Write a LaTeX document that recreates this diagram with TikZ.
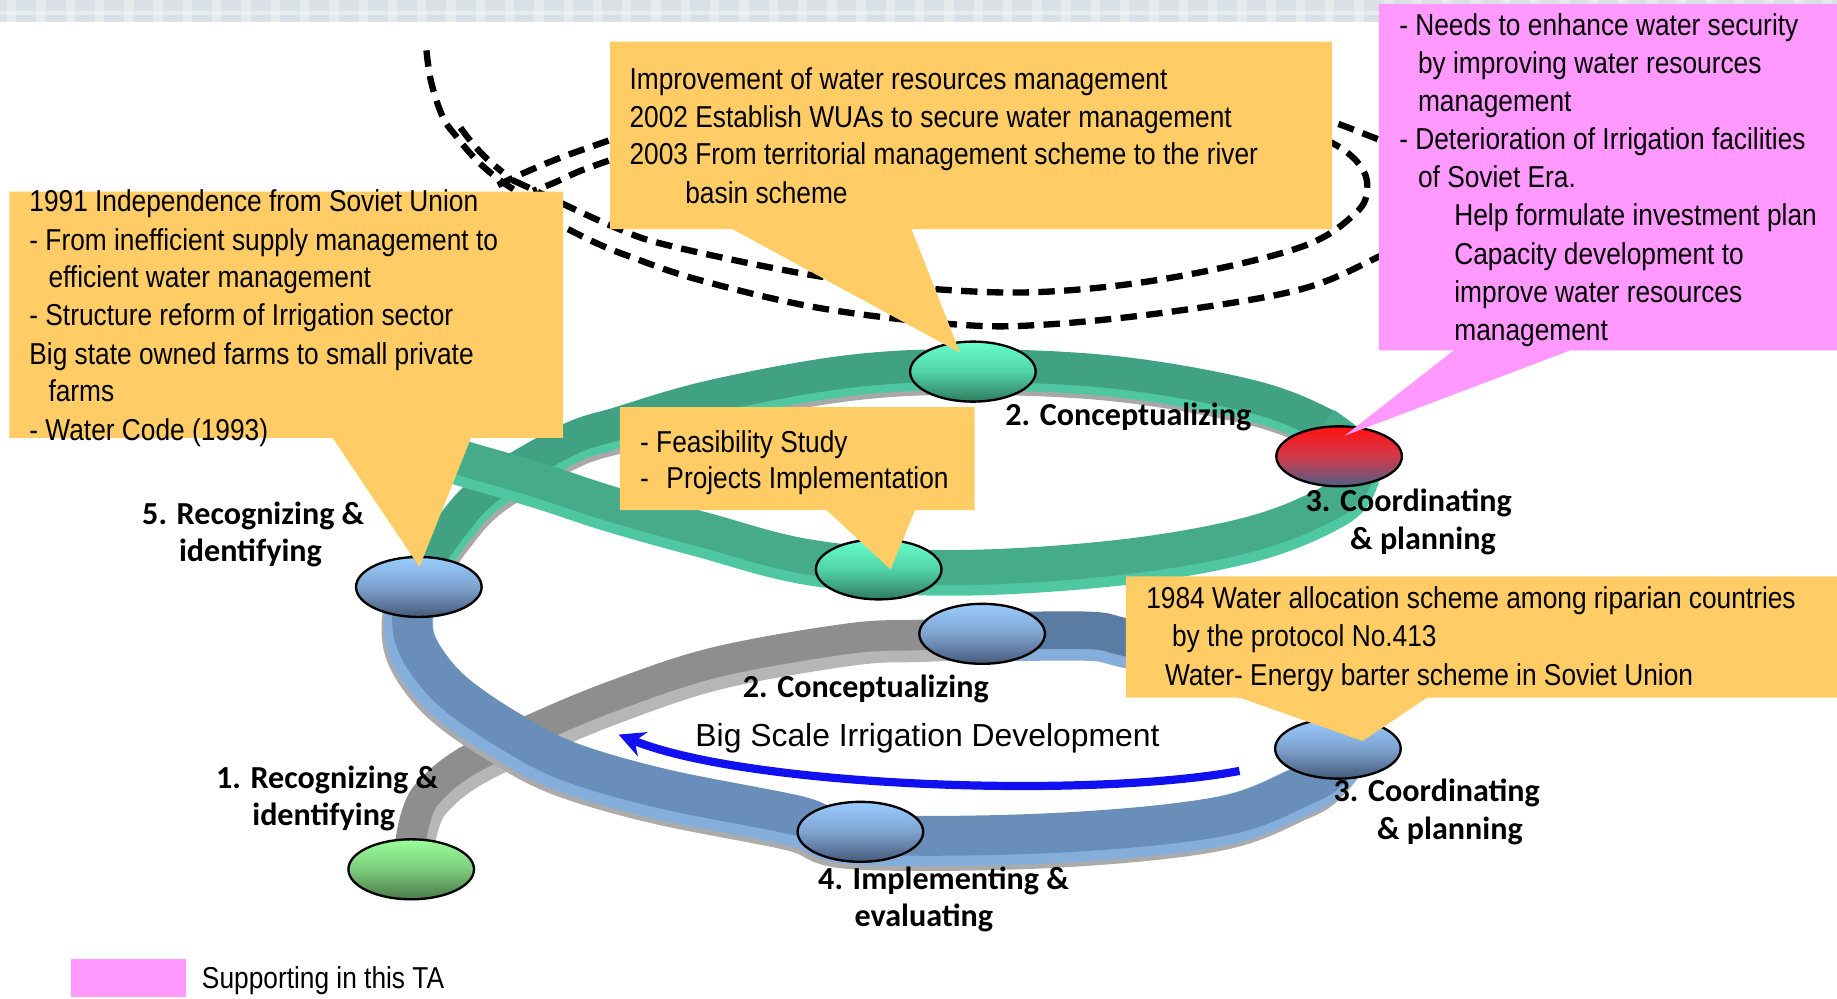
\documentclass[tikz,border=0pt]{standalone}
\usepackage{fontspec}
\setmainfont{Liberation Sans}[FakeStretch=0.87]
\newfontfamily\widefont{Liberation Sans}
\newfontfamily\labfont{Carlito}
\usetikzlibrary{shapes.geometric,arrows.meta}
\definecolor{orng}{HTML}{FFCC66}
\definecolor{pinkbox}{HTML}{FF99FF}
\definecolor{bannerc}{HTML}{DAE1E6}
\definecolor{gtop}{HTML}{40A282}
\definecolor{gtopF}{HTML}{45AB89}
\definecolor{gedge}{HTML}{4FC7A1}
\definecolor{gshadow}{HTML}{A8A8A8}
\definecolor{btopF}{HTML}{6A8EBA}
\definecolor{btopB}{HTML}{5B7CA2}
\definecolor{bedge}{HTML}{86AEDB}
\definecolor{bshadow}{HTML}{ABABAB}
\definecolor{graytop}{HTML}{8E8E8E}
\definecolor{grayedge}{HTML}{B6B6B6}
\definecolor{arrowblue}{HTML}{1010F0}
\definecolor{ebT}{HTML}{99CCFF}
\definecolor{ebM}{HTML}{7EA3CF}
\definecolor{ebB}{HTML}{465A7A}
\definecolor{egT}{HTML}{66FFCC}
\definecolor{egM}{HTML}{52D3A7}
\definecolor{egB}{HTML}{2F7A60}
\definecolor{erT}{HTML}{FF1010}
\definecolor{erM}{HTML}{D33A4C}
\definecolor{erB}{HTML}{4F5F85}
\definecolor{elT}{HTML}{99FF99}
\definecolor{elM}{HTML}{7CCB7C}
\definecolor{elB}{HTML}{4A7A4A}
\begin{document}
\begin{tikzpicture}[x=0.5pt,y=-0.5pt,
  bt/.style={anchor=base west,inner sep=0pt,font=\fontsize{12.9}{15}\selectfont},
  lb/.style={anchor=base west,inner sep=0pt,font=\labfont\bfseries\fontsize{13.7}{16}\selectfont},
  ell/.style={ellipse,draw=black,line width=1pt,minimum width=53.6pt,minimum height=25.6pt,inner sep=0pt},
  eblue/.style={ell,top color=ebT,bottom color=ebB,middle color=ebM},
  egreen/.style={ell,top color=egT,bottom color=egB,middle color=egM},
  ered/.style={ell,top color=erT,bottom color=erB,middle color=erM},
  elight/.style={ell,top color=elT,bottom color=elB,middle color=elM},
  dsh/.style={draw=black,line width=2.7pt,dash pattern=on 7pt off 4pt},
  sm/.style={smooth,tension=0.6}]
\useasboundingbox (0,0) rectangle (1568,852);
% banner
\fill[bannerc] (0,0) rectangle (1568,18.5);
\foreach \i in {0,...,63} {\fill[white,opacity=0.3] (\i*25+6,0) rectangle (\i*25+14,18.5);}
\fill[white,opacity=0.35] (0,9) rectangle (1568,13);
% dashed upper turn
\draw[dsh] plot[sm] coordinates {(364,43) (368,70) (378,100) (390,117) (407,137) (427,154) (448,168) (470,185)};
\draw[dsh] plot[sm] coordinates {(393,109) (403,122) (415,135) (429,147)};
\draw[dsh] plot[sm] coordinates {(540,112) (520.7,119.5) (480,134) (446.7,147.8) (425,158)};
\draw[dsh] plot[sm] coordinates {(540,129) (520.7,136.6) (495,146) (472,156.4) (455,163)};
\draw[dsh] plot[sm] coordinates {(440,155) (449.5,159.3) (523.5,193.5) (574.8,210.5) (700,236) (801,247) (893,249) (1000,237) (1110,211) (1157,182) (1167,160) (1160,140) (1137,122) (1100,110)};
\draw[dsh] plot[sm] coordinates {(465,186) (480.7,193.5) (509,207.5) (537.7,219) (597,239) (700,263) (817,277) (893,277) (1000,266) (1110,247) (1177,219) (1210,200)};
\draw[dsh] plot[sm] coordinates {(1100,94) (1137,104) (1170.7,116.7) (1210,132)};
% gray lowest turn
\draw[grayedge,line width=17pt,shift={(3,6)}] plot[sm] coordinates {(350,722) (355,697) (366,676) (398,650) (458,621) (526,593) (612,565) (725,545) (784,542) (838,540)};
\draw[graytop,line width=13pt] plot[sm] coordinates {(350,722) (355,697) (366,676) (398,650) (458,621) (526,593) (612,565) (725,545) (784,542) (838,540)};
% blue back
\draw[bedge,line width=20pt,shift={(0,6)}] plot[sm] coordinates {(838,539) (927,538) (961,544) (1055,568) (1115,586) (1150,608) (1165,630)};
\draw[btopB,line width=16pt] plot[sm] coordinates {(838,539) (927,538) (961,544) (1055,568) (1115,586) (1150,608) (1165,630)};
% blue front
\draw[bshadow,line width=21pt,shift={(-5,9)}] plot[sm] coordinates {(1155,632) (1135,657) (1112,671) (1041,697) (899,711) (734,712) (680,696) (565,673) (483,649) (432,622) (391,594) (368,570) (354,545) (352,520) (357,502)};
\draw[bedge,line width=21pt,shift={(-3,5)}] plot[sm] coordinates {(1155,632) (1135,657) (1112,671) (1041,697) (899,711) (734,712) (680,696) (565,673) (483,649) (432,622) (391,594) (368,570) (354,545) (352,520) (357,502)};
\draw[btopF,line width=17pt] plot[sm] coordinates {(1155,632) (1135,657) (1112,671) (1041,697) (899,711) (734,712) (680,696) (565,673) (483,649) (432,622) (391,594) (368,570) (354,545) (352,520) (357,502)};
% green back
\draw[gshadow,line width=17pt,shift={(2,8)}] plot[sm] coordinates {(356,492) (385,450) (418,415) (484,376) (529,361) (609,338) (725,317) (830,312) (953,318) (1067,338) (1130,362) (1160,385)};
\draw[gedge,line width=17pt,shift={(0,4)}] plot[sm] coordinates {(356,492) (385,450) (418,415) (484,376) (529,361) (609,338) (725,317) (830,312) (953,318) (1067,338) (1130,362) (1160,385)};
\draw[gtop,line width=14pt] plot[sm] coordinates {(356,492) (385,450) (418,415) (484,376) (529,361) (609,338) (725,317) (830,312) (953,318) (1067,338) (1130,362) (1160,385)};
% green front
\draw[gedge,line width=19pt,shift={(0,5)}] plot[sm] coordinates {(1130,362) (1156,385) (1157,406) (1137,428) (1067,456) (953,476) (811,484.5) (694,476) (600,452) (523,430.5) (460,410) (395,391) (350,377)};
\draw[gtopF,line width=15pt] plot[sm] coordinates {(1130,362) (1156,385) (1157,406) (1137,428) (1067,456) (953,476) (811,484.5) (694,476) (600,452) (523,430.5) (460,410) (395,391) (350,377)};
% blue arrow
\coordinate (arrS) at (1058,658);
\coordinate (arrE) at (528,627);
\draw[arrowblue,line width=3.5pt,-{Stealth[length=11pt,width=11pt]}] (arrS) .. controls (930,682) and (640,672) .. (arrE);
% ellipses
\node[eblue] (e5) at (357.5,501) {};
\node[egreen] (e2t) at (830.4,317.2) {};
\node[ered] (e3t) at (1143,389.5) {};
\node[egreen] (efs) at (750,486) {};
\node[eblue] (e2b) at (838.3,541) {};
\node[eblue] (e3b) at (1142,639) {};
\node[eblue] (e4) at (734.4,710) {};
\node[elight] (e1) at (351,742) {};
% callout boxes
\fill[orng] (8,163.6) -- (480.6,163.6) -- (480.6,373.8) -- (402,373.8) -- (358,484) -- (284,373.8) -- (8,373.8) -- cycle;
\fill[orng] (520.7,35.6) -- (1137,35.6) -- (1137,195.5) -- (778,195.5) -- (819.4,301) -- (625,195.5) -- (520.7,195.5) -- cycle;
\fill[orng] (529,347.6) -- (832,347.6) -- (832,435.5) -- (781,435.5) -- (760.2,486) -- (705.6,435.5) -- (529,435.5) -- cycle;
\fill[orng] (961,492) -- (1568,492) -- (1568,595.5) -- (1218,595.5) -- (1163,632.5) -- (1058.4,595.5) -- (961,595.5) -- cycle;
\fill[pinkbox] (1177,3.4) -- (1568,3.4) -- (1568,299) -- (1340.5,299) -- (1147.6,372) -- (1241,299) -- (1177,299) -- cycle;
% box texts
\node[bt] (a1) at (24.7,180.7) {1991 Independence from Soviet Union};
\node[bt] (a2) at (24.7,213.4) {- From inefficient supply management to};
\node[bt] (a3) at (41,245.3) {efficient water management};
\node[bt] (a4) at (24.7,278.2) {- Structure reform of Irrigation sector};
\node[bt] (a5) at (24.7,311) {Big state owned farms to small private};
\node[bt] (a6) at (41,342.9) {farms};
\node[bt] (a7) at (24.7,375.6) {- Water Code (1993)};
\node[bt] (b1) at (537,76.3) {Improvement of water resources management};
\node[bt] (b2) at (537,108.7) {2002 Establish WUAs to secure water management};
\node[bt] (b3) at (537,140.8) {2003 From territorial management scheme to the river};
\node[bt] (b4) at (584.6,173.6) {basin scheme};
\node[bt] (c1) at (546,386) {- Feasibility Study};
\node[bt] (c2) at (546,417) {-\hspace{7.5pt}Projects Implementation};
\node[bt] (d1) at (978,519.2) {1984 Water allocation scheme among riparian countries};
\node[bt] (d2) at (1000,552) {by the protocol No.413};
\node[bt] (d3) at (994,584.7) {Water- Energy barter scheme in Soviet Union};
\node[bt] (p1) at (1194,29.9) {- Needs to enhance water security};
\node[bt] (p2) at (1210,62.5) {by improving water resources};
\node[bt] (p3) at (1210,95) {management};
\node[bt] (p4) at (1194,127.6) {- Deterioration of Irrigation facilities};
\node[bt] (p5) at (1210,160.2) {of Soviet Era.};
\node[bt] (p6) at (1241,192.8) {Help formulate investment plan};
\node[bt] (p7) at (1241,225.4) {Capacity development to};
\node[bt] (p8) at (1241,258) {improve water resources};
\node[bt] (p9) at (1241,290.6) {management};
% stage labels
\node[lb] (l1) at (857.8,362.8) {2. Conceptualizing};
\node[lb] (l2a) at (1114,436.7) {3. Coordinating};
\node[lb] (l2b) at (1152,468.8) {\& planning};
\node[lb] (l3a) at (121,447.5) {5. Recognizing \&};
\node[lb] (l3b) at (152.4,479.4) {identifying};
\node[lb] (l4) at (633.7,595) {2. Conceptualizing};
\node[lb] (l5a) at (184,672.8) {1. Recognizing \&};
\node[lb] (l5b) at (215,704.8) {identifying};
\node[lb] (l6a) at (1138,684.3) {3. Coordinating};
\node[lb] (l6b) at (1175,716.3) {\& planning};
\node[lb] (l7a) at (698,759.5) {4. Implementing \&};
\node[lb] (l7b) at (729,791) {evaluating};
\node[anchor=base west,inner sep=0pt,font=\widefont\fontsize{13.6}{16}\selectfont] (big) at (593.2,637.3) {Big Scale Irrigation Development};
% legend
\fill[pinkbox] (61,818.6) rectangle (159,851);
\node[bt] (leg) at (172,843.4) {Supporting in this TA};
\end{tikzpicture}
\end{document}
